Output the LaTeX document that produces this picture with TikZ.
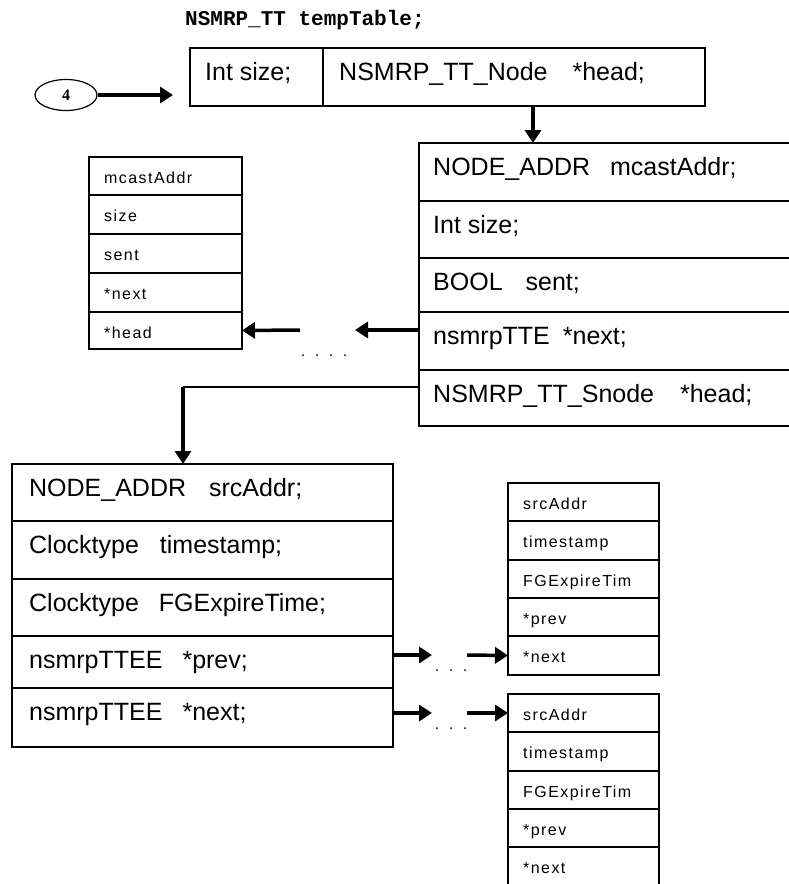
\documentclass[tikz,border=0pt]{standalone}
\usepackage{fontspec}
\usetikzlibrary{arrows.meta,shapes.geometric,calc}
\newfontfamily\cellfont{Liberation Sans}
\newfontfamily\tagfont[LetterSpace=9]{Liberation Sans}
\newfontfamily\codefont{Liberation Mono}
\newfontfamily\numfont{Liberation Serif}

\tikzset{
  box/.style={draw, line width=1.5pt, rectangle, inner sep=0pt, outer sep=0pt, anchor=north west},
  wide/.style={font=\fontsize{25}{30}\selectfont\cellfont, anchor=base west, inner sep=0pt},
  tag/.style={font=\fontsize{16}{19}\selectfont\tagfont, anchor=base west, inner sep=0pt},
  ptr/.style={line width=3.5pt, -{Triangle[length=13pt,width=16pt]}},
  link/.style={line width=1.8pt},
  gapdot/.style={fill=black}
}

% one field of a record: name, text style, x, y, width, height, text dx, text dy, text
\newcommand\cellrow[9]{%
  \node[box, minimum width=#5pt, minimum height=#6pt] (#1) at (#3,#4) {};
  \node[#2] (#1-t) at ($(#1.north west)+(#7,#8)$) {#9};}

\begin{document}
\begin{tikzpicture}[x=1pt,y=-1pt]
\useasboundingbox (0,0) rectangle (789,884);
\clip (0,0) rectangle (789,884);

% declaration
\node[font=\fontsize{21}{24}\selectfont\codefont\bfseries, anchor=base west, inner sep=0pt]
  (decl) at (185,25) {NSMRP\_TT tempTable;};

% table header
\cellrow{ts}{wide}{190}{48}{133}{58}{15}{32}{Int size;}
\cellrow{th}{wide}{323}{48}{382}{58}{16}{32}{NSMRP\_TT\_Node\hspace{25pt}*head;}

% entry pointer
\node[draw, ellipse, line width=1.2pt, minimum width=62pt, minimum height=31pt, inner sep=0pt,
  font=\fontsize{16}{18}\selectfont\numfont\bfseries] (e4) at (66,95) {4};
\coordinate (eptr) at (173,95);
\draw[ptr] (e4.east) -- (eptr);

% table entry
\cellrow{m1}{wide}{419}{143}{420}{58}{14}{32}{NODE\_ADDR\hspace{20pt}mcastAddr;}
\cellrow{m2}{wide}{419}{201}{420}{57}{14}{32}{Int size;}
\cellrow{m3}{wide}{419}{258}{420}{54}{14}{32}{BOOL\hspace{23pt}sent;}
\cellrow{m4}{wide}{419}{312}{420}{58}{14}{32}{nsmrpTTE\hspace{13pt}*next;}
\cellrow{m5}{wide}{419}{370}{420}{56}{14}{32}{NSMRP\_TT\_Snode\hspace{26pt}*head;}

\draw[ptr] ([xshift=19pt]th.south) -- ([xshift=19pt]th.south |- m1.north);

% next table entry (compact)
\cellrow{s1}{tag}{89}{157}{153}{38}{15}{26}{mcastAddr}
\cellrow{s2}{tag}{89}{195}{153}{39}{15}{26}{size}
\cellrow{s3}{tag}{89}{234}{153}{39}{15}{26}{sent}
\cellrow{s4}{tag}{89}{273}{153}{39}{15}{26}{*next}
\cellrow{s5}{tag}{89}{312}{153}{37}{15}{26}{*head}

\coordinate (g1) at (355,330);
\coordinate (g2) at (300,330);
\draw[ptr] ([yshift=11pt]m4.west) -- (g1);
\draw[ptr] (g2) -- (s5.east);
\foreach \x in {303,317,331,345} \fill[gapdot] (\x,355) circle (1pt);

% source node list
\cellrow{b1}{wide}{12}{464}{381}{57}{17}{32}{NODE\_ADDR\hspace{23pt}srcAddr;}
\cellrow{b2}{wide}{12}{521}{381}{58}{17}{32}{Clocktype\hspace{21pt}timestamp;}
\cellrow{b3}{wide}{12}{579}{381}{57}{17}{32}{Clocktype\hspace{20pt}FGExpireTime;}
\cellrow{b4}{wide}{12}{636}{381}{52}{17}{32}{nsmrpTTEE\hspace{20pt}*prev;}
\cellrow{b5}{wide}{12}{688}{381}{59}{17}{32}{nsmrpTTEE\hspace{20pt}*next;}

\coordinate (bend) at (183,387);
\draw[link] ([yshift=11pt]m5.west) -- (bend);
\draw[ptr] (bend) -- (bend |- b1.north);

% neighbouring source nodes
\cellrow{p1}{tag}{508}{483}{151}{38}{15}{26}{srcAddr}
\cellrow{p2}{tag}{508}{521}{151}{39}{15}{26}{timestamp}
\cellrow{p3}{tag}{508}{560}{151}{38}{15}{26}{FGExpireTim}
\cellrow{p4}{tag}{508}{598}{151}{38}{15}{26}{*prev}
\cellrow{p5}{tag}{508}{636}{151}{39}{15}{26}{*next}

\cellrow{q1}{tag}{508}{694}{151}{38}{15}{26}{srcAddr}
\cellrow{q2}{tag}{508}{732}{151}{39}{15}{26}{timestamp}
\cellrow{q3}{tag}{508}{771}{151}{38}{15}{26}{FGExpireTim}
\cellrow{q4}{tag}{508}{809}{151}{38}{15}{26}{*prev}
\cellrow{q5}{tag}{508}{847}{151}{42}{15}{26}{*next}

\coordinate (h1) at (432,655);
\coordinate (k1) at (467,655);
\coordinate (h2) at (432,713);
\coordinate (k2) at (467,713);
\draw[ptr] (b4.east |- h1) -- (h1);
\draw[ptr] (k1) -- (p5.west);
\draw[ptr] (b5.east |- h2) -- (h2);
\draw[ptr] (k2) -- (q1.west);
\foreach \x in {437,451,465} {
  \fill[gapdot] (\x,670) circle (1pt);
  \fill[gapdot] (\x,728) circle (1pt);
}
\end{tikzpicture}
\end{document}
